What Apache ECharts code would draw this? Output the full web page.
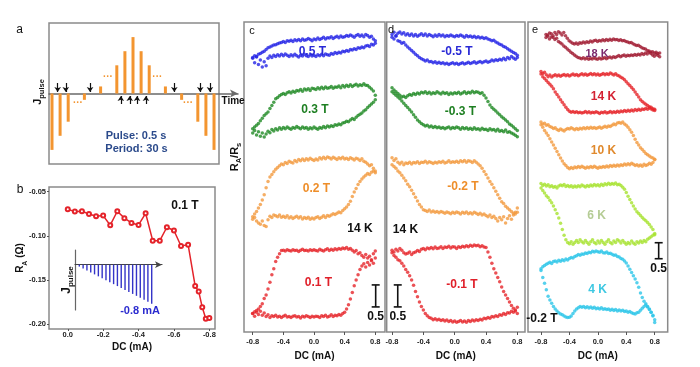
<!DOCTYPE html>
<html><head><meta charset="utf-8">
<script src="https://cdn.jsdelivr.net/npm/echarts@6/dist/echarts.min.js"></script>
<style>html,body{margin:0;padding:0;background:#fff}#chart{width:700px;height:367px}</style>
</head><body><div id="chart"></div>
<script>
const FONT = '"Liberation Sans", Arial, Helvetica, sans-serif';

// ---------- panel a : pulse train ----------
const aPulseSlot = [0,1,2,4,6,8,9,10,11,12,14,16,18,19,20];
const aPulseJ    = [-4,-3,-2,-0.45,0.5,2,3,4,3,2,0.5,-0.45,-2,-3,-4];
const aDotSlot = [3.2,6.9,13.0,16.8];
const aDotJ    = [-0.67,1.17,1.17,-0.67];
const aDownArrowSlot = [0.7,1.7,4.7,15.1,18.3,19.5];
const aDownArrowJ = [0.74,0.1];
const aUpArrowSlot = [8.5,9.6,10.5,11.6];
const aUpArrowJ = [-0.74,-0.18];

// ---------- panel b ----------
const bDC = [0,-0.04,-0.08,-0.12,-0.16,-0.2,-0.24,-0.28,-0.32,-0.36,-0.4,-0.44,-0.48,-0.52,-0.56,-0.6,-0.64,-0.68,-0.72,-0.74,-0.76,-0.78,-0.8];
const bRA = [-0.070,-0.0726,-0.0722,-0.0753,-0.0779,-0.0771,-0.088,-0.0722,-0.080,-0.0854,-0.0877,-0.0745,-0.1055,-0.1055,-0.0903,-0.094,-0.1115,-0.110,-0.157,-0.163,-0.181,-0.194,-0.193];
const bTicksX = [0,-0.2,-0.4,-0.6,-0.8];
const bTicksY = [-0.2,-0.15,-0.1,-0.05];
const bInsetIndex = [1,2,3,4,5,6,7,8,9,10,11,12,13,14,15,16,17,18,19,20];
const bInsetJ = [-0.04,-0.08,-0.12,-0.16,-0.2,-0.24,-0.28,-0.32,-0.36,-0.4,-0.44,-0.48,-0.52,-0.56,-0.6,-0.64,-0.68,-0.72,-0.76,-0.8];

// ---------- panels c,d,e : DC sweeps (R_A/R_s, stacked) ----------
const loopTicks = [-0.8,-0.4,0,0.4,0.8];
const dcSweep = [-0.8,-0.775,-0.75,-0.725,-0.7,-0.675,-0.65,-0.625,-0.6,-0.575,-0.55,-0.525,-0.5,-0.475,-0.45,-0.425,-0.4,-0.375,-0.35,-0.325,-0.3,-0.275,-0.25,-0.225,-0.2,-0.175,-0.15,-0.125,-0.1,-0.075,-0.05,-0.025,0,0.025,0.05,0.075,0.1,0.125,0.15,0.175,0.2,0.225,0.25,0.275,0.3,0.325,0.35,0.375,0.4,0.425,0.45,0.475,0.5,0.525,0.55,0.575,0.6,0.625,0.65,0.675,0.7,0.725,0.75,0.775,0.8];

// c : +0.1 T
const cUp01 = [0.42,0.36,0.45,0.40,0.47,0.38,0.43,0.35,0.39,0.33,0.37,0.35,0.38,0.34,0.36,0.33,0.36,0.38,0.34,0.35,0.33,0.36,0.37,0.34,0.35,0.32,0.36,0.34,0.37,0.35,0.33,0.36,0.34,0.36,0.35,0.33,0.37,0.35,0.38,0.34,0.36,0.39,0.35,0.38,0.37,0.40,0.38,0.42,0.45,0.52,0.62,0.75,0.90,1.05,1.18,1.30,1.42,1.50,1.55,1.48,1.58,1.52,1.62,1.56,1.68];
const cDn01 = [0.42,0.46,0.49,0.52,0.58,0.64,0.76,0.84,0.98,1.13,1.30,1.44,1.60,1.70,1.78,1.85,1.86,1.84,1.87,1.85,1.84,1.87,1.85,1.86,1.83,1.86,1.88,1.85,1.86,1.84,1.87,1.85,1.87,1.85,1.84,1.88,1.86,1.84,1.87,1.89,1.85,1.88,1.86,1.89,1.87,1.90,1.88,1.91,1.89,1.92,1.88,1.90,1.86,1.82,1.85,1.78,1.80,1.74,1.70,1.76,1.68,1.72,1.64,1.78,1.84];
// c : +0.2 T
const cUp02 = [2.56,2.60,2.52,2.48,2.45,2.52,2.42,2.40,2.55,2.63,2.60,2.66,2.64,2.62,2.66,2.61,2.63,2.60,2.64,2.59,2.62,2.58,2.61,2.63,2.59,2.62,2.57,2.60,2.58,2.61,2.56,2.59,2.57,2.60,2.62,2.58,2.61,2.64,2.60,2.65,2.63,2.66,2.69,2.67,2.70,2.73,2.71,2.76,2.80,2.84,2.90,2.97,3.08,3.18,3.26,3.35,3.42,3.48,3.52,3.56,3.60,3.58,3.63,3.66,3.62];
const cDn02 = [2.62,2.68,2.74,2.82,2.90,3.00,3.12,3.28,3.42,3.52,3.58,3.64,3.70,3.74,3.78,3.82,3.80,3.85,3.83,3.88,3.86,3.84,3.90,3.87,3.92,3.89,3.93,3.90,3.94,3.91,3.95,3.92,3.90,3.93,3.91,3.96,3.93,3.97,3.94,3.98,3.96,3.93,3.97,3.95,3.92,3.96,3.94,3.97,3.93,3.95,3.92,3.96,3.94,3.91,3.95,3.93,3.90,3.94,3.88,3.86,3.82,3.78,3.80,3.72,3.66];
// c : +0.3 T
const cUp03 = [4.52,4.58,4.48,4.55,4.45,4.52,4.43,4.50,4.56,4.53,4.60,4.57,4.62,4.59,4.64,4.61,4.65,4.62,4.66,4.63,4.61,4.65,4.63,4.67,4.64,4.62,4.66,4.63,4.65,4.61,4.64,4.62,4.66,4.63,4.61,4.65,4.63,4.67,4.64,4.68,4.66,4.69,4.67,4.71,4.70,4.73,4.71,4.75,4.76,4.79,4.78,4.82,4.85,4.83,4.88,4.92,4.95,4.98,5.02,5.05,5.10,5.14,5.18,5.22,5.28];
const cDn03 = [4.62,4.66,4.70,4.74,4.80,4.86,4.92,4.96,5.00,5.08,5.15,5.22,5.30,5.33,5.37,5.40,5.42,5.40,5.44,5.46,5.43,5.47,5.45,5.49,5.48,5.51,5.47,5.52,5.50,5.53,5.49,5.54,5.53,5.51,5.55,5.52,5.56,5.53,5.57,5.54,5.55,5.58,5.54,5.57,5.56,5.59,5.55,5.60,5.57,5.61,5.58,5.62,5.58,5.61,5.63,5.59,5.62,5.60,5.64,5.61,5.60,5.56,5.52,5.48,5.38];
// c : +0.5 T
const cUp05 = [6.22,6.12,6.25,6.08,6.18,6.02,6.14,6.05,6.22,6.27,6.24,6.29,6.26,6.30,6.27,6.31,6.28,6.32,6.29,6.26,6.30,6.27,6.31,6.28,6.25,6.29,6.27,6.31,6.28,6.26,6.30,6.27,6.29,6.26,6.30,6.28,6.31,6.28,6.32,6.30,6.29,6.33,6.31,6.35,6.33,6.36,6.34,6.38,6.37,6.40,6.38,6.42,6.41,6.44,6.42,6.46,6.45,6.48,6.46,6.50,6.51,6.49,6.54,6.52,6.56];
const cDn05 = [6.24,6.28,6.26,6.31,6.33,6.36,6.38,6.42,6.46,6.48,6.50,6.52,6.53,6.55,6.57,6.58,6.60,6.58,6.62,6.61,6.63,6.60,6.64,6.62,6.65,6.62,6.66,6.63,6.64,6.67,6.65,6.62,6.66,6.64,6.68,6.65,6.67,6.70,6.66,6.69,6.68,6.71,6.67,6.70,6.72,6.69,6.73,6.70,6.71,6.74,6.72,6.75,6.73,6.70,6.74,6.76,6.72,6.75,6.71,6.76,6.74,6.70,6.72,6.66,6.62];

// d : -0.1 T
const dUp01 = [1.86,1.82,1.88,1.84,1.90,1.86,1.80,1.77,1.79,1.82,1.76,1.80,1.82,1.85,1.83,1.88,1.90,1.87,1.91,1.89,1.92,1.89,1.93,1.90,1.91,1.94,1.90,1.93,1.92,1.95,1.91,1.94,1.93,1.90,1.94,1.92,1.95,1.93,1.96,1.94,1.97,1.95,1.98,1.96,1.97,1.94,1.96,1.93,1.92,1.82,1.70,1.56,1.44,1.34,1.24,1.14,1.02,0.92,0.84,0.76,0.68,0.60,0.54,0.48,0.42];
const dDn01 = [1.80,1.74,1.70,1.64,1.62,1.56,1.50,1.42,1.36,1.28,1.18,1.06,0.92,0.80,0.68,0.58,0.50,0.42,0.37,0.33,0.31,0.28,0.30,0.27,0.29,0.26,0.28,0.25,0.27,0.24,0.26,0.23,0.25,0.22,0.24,0.26,0.23,0.25,0.22,0.26,0.24,0.27,0.25,0.28,0.26,0.29,0.27,0.31,0.30,0.33,0.31,0.35,0.34,0.37,0.35,0.39,0.38,0.42,0.40,0.44,0.43,0.47,0.45,0.50,0.56];
// d : -0.2 T
const dUp02 = [3.96,3.90,3.94,3.86,3.82,3.86,3.80,3.84,3.83,3.86,3.82,3.85,3.84,3.87,3.83,3.86,3.85,3.88,3.84,3.87,3.85,3.83,3.86,3.84,3.87,3.85,3.88,3.84,3.86,3.89,3.85,3.87,3.86,3.88,3.85,3.89,3.87,3.90,3.86,3.89,3.88,3.85,3.89,3.86,3.82,3.78,3.72,3.65,3.58,3.50,3.42,3.36,3.28,3.20,3.12,3.04,2.96,2.92,2.86,2.82,2.78,2.74,2.70,2.68,2.72];
const dDn02 = [3.80,3.76,3.72,3.66,3.62,3.56,3.50,3.44,3.36,3.30,3.22,3.14,3.06,2.98,2.90,2.84,2.78,2.76,2.74,2.77,2.73,2.75,2.72,2.74,2.71,2.74,2.72,2.70,2.73,2.71,2.69,2.72,2.70,2.73,2.71,2.68,2.72,2.70,2.73,2.69,2.71,2.68,2.72,2.70,2.67,2.70,2.66,2.68,2.65,2.62,2.66,2.60,2.63,2.58,2.52,2.60,2.55,2.62,2.48,2.58,2.64,2.56,2.66,2.72,2.82];
// d : -0.3 T
const dUp03 = [5.55,5.50,5.46,5.42,5.38,5.34,5.36,5.33,5.37,5.40,5.38,5.42,5.40,5.43,5.41,5.45,5.43,5.46,5.42,5.45,5.41,5.44,5.42,5.46,5.43,5.41,5.45,5.42,5.44,5.40,5.43,5.41,5.44,5.42,5.45,5.41,5.43,5.46,5.42,5.45,5.43,5.47,5.44,5.46,5.45,5.42,5.44,5.38,5.32,5.24,5.16,5.10,5.06,5.02,4.98,4.94,4.89,4.86,4.82,4.78,4.73,4.70,4.66,4.62,4.58];
const dDn03 = [5.46,5.42,5.38,5.34,5.30,5.25,5.20,5.15,5.10,5.05,5.00,4.94,4.88,4.82,4.78,4.74,4.71,4.68,4.70,4.66,4.68,4.65,4.67,4.64,4.66,4.63,4.65,4.62,4.64,4.66,4.62,4.65,4.63,4.66,4.64,4.61,4.65,4.62,4.64,4.61,4.63,4.60,4.64,4.61,4.62,4.59,4.63,4.60,4.61,4.58,4.62,4.59,4.60,4.57,4.61,4.56,4.58,4.55,4.59,4.54,4.55,4.52,4.50,4.47,4.44];
// d : -0.5 T
const dUp05 = [6.76,6.81,6.74,6.79,6.82,6.77,6.80,6.75,6.78,6.74,6.77,6.73,6.76,6.72,6.75,6.78,6.74,6.77,6.73,6.76,6.74,6.71,6.75,6.72,6.76,6.73,6.75,6.71,6.74,6.72,6.75,6.73,6.71,6.74,6.72,6.75,6.73,6.70,6.74,6.71,6.73,6.70,6.72,6.69,6.71,6.68,6.70,6.67,6.69,6.66,6.64,6.62,6.63,6.59,6.57,6.54,6.52,6.49,6.47,6.44,6.41,6.38,6.35,6.33,6.29];
const dDn05 = [6.70,6.66,6.72,6.62,6.60,6.56,6.58,6.52,6.48,6.44,6.40,6.36,6.31,6.28,6.24,6.21,6.19,6.16,6.18,6.14,6.15,6.12,6.14,6.11,6.13,6.10,6.12,6.09,6.11,6.08,6.10,6.12,6.09,6.11,6.08,6.10,6.12,6.09,6.11,6.13,6.10,6.12,6.14,6.11,6.13,6.15,6.12,6.14,6.16,6.13,6.15,6.18,6.16,6.19,6.17,6.20,6.18,6.22,6.19,6.24,6.21,6.26,6.23,6.20,6.24];

// e : -0.2 T, 4 K
const eUp4 = [1.98,2.04,2.08,2.12,2.15,2.18,2.14,2.20,2.22,2.19,2.24,2.21,2.26,2.23,2.28,2.25,2.30,2.33,2.31,2.36,2.38,2.42,2.40,2.44,2.43,2.47,2.45,2.49,2.48,2.52,2.50,2.53,2.51,2.49,2.53,2.48,2.47,2.50,2.45,2.46,2.43,2.40,2.41,2.36,2.34,2.30,2.27,2.22,2.16,2.06,1.96,1.86,1.76,1.66,1.54,1.40,1.22,1.08,0.96,0.88,0.80,0.72,0.62,0.52,0.38];
const eDn4 = [1.92,1.70,1.52,1.32,1.12,1.00,0.90,0.80,0.72,0.66,0.60,0.56,0.54,0.50,0.47,0.45,0.46,0.50,0.58,0.66,0.72,0.76,0.80,0.77,0.80,0.76,0.79,0.75,0.78,0.74,0.77,0.73,0.75,0.72,0.76,0.71,0.73,0.70,0.72,0.68,0.71,0.67,0.70,0.66,0.69,0.66,0.68,0.64,0.66,0.62,0.64,0.60,0.58,0.56,0.60,0.62,0.68,0.74,0.80,0.84,0.78,0.70,0.62,0.50,0.30];
// e : 6 K
const eUp6 = [4.64,4.58,4.62,4.56,4.60,4.54,4.57,4.52,4.55,4.50,4.56,4.59,4.57,4.61,4.55,4.58,4.54,4.57,4.52,4.56,4.53,4.57,4.54,4.59,4.56,4.53,4.58,4.55,4.59,4.56,4.61,4.57,4.60,4.56,4.62,4.58,4.63,4.60,4.65,4.61,4.64,4.62,4.66,4.60,4.62,4.58,4.52,4.46,4.36,4.24,4.14,4.04,3.94,3.84,3.76,3.70,3.64,3.58,3.52,3.48,3.42,3.36,3.28,3.20,3.08];
const eDn6 = [4.50,4.42,4.34,4.26,4.20,4.12,4.04,3.94,3.82,3.70,3.56,3.40,3.20,3.02,2.88,2.80,2.76,2.82,2.74,2.80,2.86,2.80,2.88,2.82,2.78,2.86,2.80,2.74,2.82,2.88,2.80,2.76,2.84,2.78,2.86,2.80,2.74,2.82,2.88,2.80,2.76,2.84,2.80,2.88,2.84,2.78,2.86,2.80,2.74,2.80,2.76,2.84,2.78,2.74,2.82,2.78,2.84,2.80,2.86,2.82,2.90,2.94,2.98,3.02,3.04];
// e : 10 K
const eUp10 = [6.56,6.50,6.52,6.46,6.48,6.42,6.40,6.36,6.38,6.33,6.30,6.34,6.31,6.28,6.33,6.36,6.34,6.38,6.35,6.32,6.36,6.33,6.37,6.34,6.38,6.35,6.39,6.36,6.40,6.37,6.39,6.36,6.38,6.41,6.37,6.40,6.43,6.40,6.44,6.42,6.46,6.50,6.48,6.53,6.55,6.52,6.56,6.50,6.46,6.40,6.32,6.24,6.14,6.02,5.92,5.84,5.76,5.70,5.64,5.58,5.54,5.50,5.46,5.44,5.40];
const eDn10 = [6.48,6.40,6.30,6.22,6.14,6.04,5.94,5.84,5.74,5.64,5.54,5.44,5.34,5.26,5.20,5.14,5.10,5.14,5.11,5.16,5.13,5.17,5.14,5.18,5.15,5.12,5.16,5.13,5.17,5.14,5.18,5.15,5.12,5.16,5.14,5.17,5.15,5.19,5.16,5.20,5.17,5.21,5.18,5.22,5.19,5.23,5.20,5.25,5.22,5.26,5.23,5.27,5.24,5.20,5.23,5.19,5.22,5.18,5.24,5.20,5.23,5.27,5.24,5.30,5.38];
// e : 14 K
const eUp14 = [8.14,8.08,8.12,8.04,7.98,8.03,7.97,8.01,8.04,8.00,8.03,7.99,8.02,8.05,8.01,8.04,8.00,8.03,8.06,8.02,8.05,8.01,8.04,8.07,8.03,8.06,8.02,8.05,8.08,8.04,8.07,8.03,8.06,8.02,8.05,8.08,8.04,8.07,8.05,8.09,8.06,8.03,8.07,8.02,8.00,7.96,7.93,7.88,7.82,7.76,7.70,7.64,7.58,7.50,7.42,7.34,7.26,7.20,7.16,7.12,7.08,7.04,7.02,6.98,6.96];
const eDn14 = [8.06,7.98,7.92,7.86,7.80,7.74,7.68,7.60,7.50,7.42,7.34,7.26,7.18,7.10,7.02,6.95,6.90,6.87,6.89,6.86,6.88,6.85,6.87,6.84,6.86,6.89,6.85,6.88,6.84,6.87,6.85,6.88,6.86,6.83,6.87,6.85,6.88,6.84,6.86,6.89,6.85,6.88,6.86,6.90,6.87,6.91,6.88,6.92,6.89,6.93,6.90,6.94,6.91,6.95,6.92,6.96,6.93,6.97,6.95,6.99,6.96,7.00,6.97,6.94,6.92];
// e : 18 K (curve sits 0.07 mA to the right in the picture)
const e18Shift = 0.07;
const eUp18 = [9.20,9.28,9.16,9.32,9.26,9.36,9.30,9.38,9.34,9.28,9.36,9.26,9.18,9.10,9.06,9.02,9.00,9.03,8.99,9.04,9.02,9.06,9.03,9.07,9.05,9.09,9.06,9.10,9.12,9.08,9.11,9.09,9.13,9.10,9.14,9.11,9.15,9.12,9.16,9.13,9.14,9.11,9.13,9.10,9.11,9.08,9.06,9.04,9.05,9.01,8.98,8.95,8.96,8.92,8.88,8.86,8.84,8.80,8.78,8.75,8.76,8.72,8.74,8.70,8.72];
const eDn18 = [9.30,9.24,9.34,9.22,9.20,9.14,9.18,9.08,9.04,9.00,8.94,8.90,8.84,8.80,8.74,8.70,8.66,8.62,8.58,8.56,8.54,8.57,8.53,8.56,8.52,8.55,8.53,8.57,8.54,8.52,8.56,8.53,8.55,8.58,8.54,8.57,8.59,8.56,8.60,8.58,8.61,8.64,8.60,8.63,8.66,8.62,8.65,8.63,8.66,8.64,8.67,8.65,8.68,8.66,8.70,8.67,8.72,8.69,8.74,8.70,8.66,8.62,8.68,8.64,8.60];

// scale bars [x, y0, y1] (0.5 in R_A/R_s)
const scaleBarC = [0.805, 0.57, 1.07];
const scaleBarD = [-0.727, 0.57, 1.07];
const scaleBarE = [0.856, 2.29, 2.79];

// ---------- colours ----------
const cBlue='#2424E6', cGreen='#1F8A24', cOrange='#F29A3F', cRed='#E6252B', cDark='#A11D33', cLime='#A6E22E', cCyan='#2CC6E8';
const BORDER = '#8a8a8a';

function loopData(up, dn, shift) {
  const s = shift || 0, out = [];
  for (let i = 0; i < dcSweep.length; i++) {
    out.push([+(dcSweep[i] + s).toFixed(3), up[i]]);
    out.push([+(dcSweep[i] + s).toFixed(3), dn[i]]);
  }
  return out;
}
function loopSeries(gi, up, dn, color, shift) {
  return { type:'scatter', xAxisIndex:gi, yAxisIndex:gi, symbol:'circle', symbolSize:3.5,
    itemStyle:{color:color}, silent:true, data: loopData(up, dn, shift), z:3 };
}
function renderScaleBar(params, api) {
  const top = api.coord([api.value(0), api.value(2)]);
  const bot = api.coord([api.value(0), api.value(1)]);
  const st = {stroke:'#111', lineWidth:1.6};
  return {type:'group', children:[
    {type:'line', shape:{x1:top[0],y1:top[1],x2:bot[0],y2:bot[1]}, style:st},
    {type:'line', shape:{x1:top[0]-4,y1:top[1],x2:top[0]+4,y2:top[1]}, style:st},
    {type:'line', shape:{x1:bot[0]-4,y1:bot[1],x2:bot[0]+4,y2:bot[1]}, style:st},
    {type:'text', style:{text:'0.5', x:bot[0], y:bot[1]+10, fill:'#111', font:'bold 12px '+FONT, align:'center', verticalAlign:'middle'}}
  ]};
}
function scaleSeries(gi, bar) {
  return {type:'custom', xAxisIndex:gi, yAxisIndex:gi, renderItem:renderScaleBar, data:[bar], silent:true, z:5};
}
function loopXAxis(gi, min, max) {
  return {gridIndex:gi, type:'value', min:min, max:max,
    axisLine:{show:false, onZero:false},
    axisTick:{show:true, customValues:loopTicks, length:3, lineStyle:{color:'#555'}},
    axisLabel:{customValues:loopTicks, formatter:v=>v.toFixed(1), fontSize:7.5, fontWeight:'bold', color:'#222', margin:6, fontFamily:FONT},
    splitLine:{show:false},
    name:'DC (mA)', nameLocation:'middle', nameGap:14,
    nameTextStyle:{fontSize:10, fontWeight:'bold', color:'#111', fontFamily:FONT}};
}
function T(x, y, text, size, color, weight, align) {
  return {type:'text', x:x, y:y, z:20, silent:true,
    style:{text:text, fill:color, fontSize:size, fontWeight:weight||'bold', fontFamily:FONT,
      align:align||'center', verticalAlign:'middle'}};
}
function R(x, y, text, size, sub) {
  const base = {fontWeight:'bold', fontFamily:FONT, fill:'#111'};
  return {type:'text', x:x, y:y, rotation:Math.PI/2, z:20, silent:true,
    style:{text:text, align:'center', verticalAlign:'middle',
      rich:{ m:Object.assign({fontSize:size, lineHeight:size+5, verticalAlign:'middle'}, base),
             s:Object.assign({fontSize:sub, lineHeight:sub, verticalAlign:'bottom'}, base)}}};
}

const chart = echarts.init(document.getElementById('chart'), null, {renderer:'canvas'});
const option = {
  animation:false,
  backgroundColor:'#fff',
  textStyle:{fontFamily:FONT},
  grid:[
    {left:49, top:23, width:170, height:141, show:true, borderColor:BORDER, borderWidth:1.5},
    {left:49, top:23, width:189, height:141},
    {left:49, top:187, width:166, height:142, show:true, borderColor:BORDER, borderWidth:1.5},
    {left:75, top:250, width:87, height:60},
    {left:244, top:22, width:141, height:310, show:true, borderColor:BORDER, borderWidth:1.5},
    {left:386.7, top:22, width:138.3, height:310, show:true, borderColor:BORDER, borderWidth:1.5},
    {left:528, top:22, width:139.7, height:310, show:true, borderColor:BORDER, borderWidth:1.5}
  ],
  xAxis:[
    {gridIndex:0, type:'value', show:false, min:0, max:1},
    {gridIndex:1, type:'value', min:-0.37, max:22.96,
      axisLine:{show:true, onZero:true, symbol:['none','arrow'], symbolSize:[6,8], lineStyle:{color:'#6a6a6a', width:1.5}},
      axisTick:{show:false}, axisLabel:{show:false}, splitLine:{show:false}},
    {gridIndex:2, type:'value', inverse:true, min:-0.832, max:0.106,
      axisLine:{show:false, onZero:false},
      axisTick:{show:true, customValues:bTicksX, length:2, lineStyle:{color:'#555'}},
      axisLabel:{customValues:bTicksX, formatter:v=>v.toFixed(1), fontSize:7.5, fontWeight:'bold', color:'#222', margin:2, fontFamily:FONT},
      splitLine:{show:false},
      name:'DC (mA)', nameLocation:'middle', nameGap:13,
      nameTextStyle:{fontSize:10, fontWeight:'bold', color:'#111', fontFamily:FONT}},
    {gridIndex:3, type:'value', min:-0.13, max:22.7,
      axisLine:{show:true, onZero:true, symbol:['none','arrow'], symbolSize:[5,7], lineStyle:{color:'#444', width:1.2}},
      axisTick:{show:false}, axisLabel:{show:false}, splitLine:{show:false}},
    loopXAxis(4, -0.9136, 0.9266),
    loopXAxis(5, -0.868, 0.898),
    loopXAxis(6, -0.983, 0.983)
  ],
  yAxis:[
    {gridIndex:0, type:'value', show:false, min:0, max:1},
    {gridIndex:1, type:'value', show:false, min:-5, max:5},
    {gridIndex:2, type:'value', min:-0.2056, max:-0.0447,
      axisLine:{show:false, onZero:false},
      axisTick:{show:true, customValues:bTicksY, length:2, lineStyle:{color:'#555'}},
      axisLabel:{customValues:bTicksY, formatter:v=>v.toFixed(2), fontSize:7.5, fontWeight:'bold', color:'#222', margin:3, fontFamily:FONT},
      splitLine:{show:false}},
    {gridIndex:3, type:'value', min:-0.93, max:0.30,
      axisLine:{show:true, onZero:false, lineStyle:{color:'#666', width:1.2}},
      axisTick:{show:false}, axisLabel:{show:false}, splitLine:{show:false}},
    {gridIndex:4, type:'value', show:false, min:0, max:7.0455},
    {gridIndex:5, type:'value', show:false, min:0, max:7.0455},
    {gridIndex:6, type:'value', show:false, min:0, max:9.6875}
  ],
  series:[
    // panel a
    {type:'bar', xAxisIndex:1, yAxisIndex:1, barWidth:3, itemStyle:{color:'#F39530'}, silent:true,
      data: aPulseSlot.map((s,i)=>[s, aPulseJ[i]])},
    {type:'custom', xAxisIndex:1, yAxisIndex:1, silent:true,
      data: aDotSlot.map((s,i)=>[s, aDotJ[i]]),
      renderItem:(p, api)=>{ const c = api.coord([api.value(0), api.value(1)]);
        return {type:'text', style:{text:'···', x:c[0], y:c[1], fill:'#F39530', font:'bold 10px '+FONT, align:'center', verticalAlign:'middle'}}; }},
    {type:'lines', coordinateSystem:'cartesian2d', xAxisIndex:1, yAxisIndex:1, silent:true,
      symbol:['none','arrow'], symbolSize:5,
      lineStyle:{color:'#111', width:1.2, opacity:1, curveness:0},
      data: aDownArrowSlot.map(s=>({coords:[[s,aDownArrowJ[0]],[s,aDownArrowJ[1]]]}))
        .concat(aUpArrowSlot.map(s=>({coords:[[s,aUpArrowJ[0]],[s,aUpArrowJ[1]]]})))},
    // panel b
    {type:'line', xAxisIndex:2, yAxisIndex:2, symbol:'emptyCircle', symbolSize:4, silent:true,
      lineStyle:{color:'#E4232A', width:1.5}, itemStyle:{color:'#E4232A', borderWidth:1.2},
      data: bDC.map((x,i)=>[x, bRA[i]]), z:4},
    {type:'bar', xAxisIndex:3, yAxisIndex:3, barWidth:1.4, itemStyle:{color:'#3434C8'}, silent:true,
      data: bInsetIndex.map((k,i)=>[k, bInsetJ[i]])},
    // panel c
    loopSeries(4, cUp01, cDn01, cRed),
    loopSeries(4, cUp02, cDn02, cOrange),
    loopSeries(4, cUp03, cDn03, cGreen),
    loopSeries(4, cUp05, cDn05, cBlue),
    scaleSeries(4, scaleBarC),
    // panel d
    loopSeries(5, dUp01, dDn01, cRed),
    loopSeries(5, dUp02, dDn02, cOrange),
    loopSeries(5, dUp03, dDn03, cGreen),
    loopSeries(5, dUp05, dDn05, cBlue),
    scaleSeries(5, scaleBarD),
    // panel e
    loopSeries(6, eUp4, eDn4, cCyan),
    loopSeries(6, eUp6, eDn6, cLime),
    loopSeries(6, eUp10, eDn10, cOrange),
    loopSeries(6, eUp14, eDn14, cRed),
    loopSeries(6, eUp18, eDn18, cDark, e18Shift),
    scaleSeries(6, scaleBarE)
  ],
  graphic:[
    T(19.7, 29.5, 'a', 12, '#111', 'normal'),
    T(20, 190, 'b', 12, '#111', 'normal'),
    T(252, 31, 'c', 11, '#111', 'normal'),
    T(391, 30, 'd', 11, '#111', 'normal'),
    T(535, 30, 'e', 11, '#111', 'normal'),
    T(136, 136, 'Pulse: 0.5 s', 11, '#2B4A8B'),
    T(136.5, 148.5, 'Period: 30 s', 11, '#2B4A8B'),
    T(221.5, 101, 'Time', 10, '#111', 'bold', 'left'),
    R(38, 92, '{m|J}{s|pulse}', 11, 7.5),
    T(185, 206, '0.1 T', 12, '#111'),
    T(140, 311, '-0.8 mA', 11, '#2B2BCF'),
    R(66.7, 280, '{m|J}{s|pulse}', 12, 8),
    R(20.7, 258, '{m|R}{s|A}{m| (Ω)}', 10, 7),
    R(235, 157, '{m|R}{s|A}{m|/R}{s|s}', 11, 7.5),
    // c labels
    T(312.3, 52, '0.5 T', 12, '#2929D6'),
    T(315, 110, '0.3 T', 12, '#1E7F22'),
    T(316.5, 188.7, '0.2 T', 12, '#EE8E2A'),
    T(318.5, 283, '0.1 T', 12, '#E0202A'),
    T(360, 228.3, '14 K', 12, '#111'),
    // d labels
    T(457, 52, '-0.5 T', 12, '#2929D6'),
    T(460.5, 112, '-0.3 T', 12, '#1E7F22'),
    T(463, 186.7, '-0.2 T', 12, '#EE8E2A'),
    T(462, 285, '-0.1 T', 12, '#E0202A'),
    T(405.5, 229.2, '14 K', 12, '#111'),
    // e labels
    T(597, 54, '18 K', 11, '#7B2A6E'),
    T(603.5, 96.3, '14 K', 12, '#D42233'),
    T(603.5, 150.3, '10 K', 12, '#E08A2E'),
    T(596.5, 215.8, '6 K', 12, '#B5CC95'),
    T(597.5, 290, '4 K', 12, '#3DC8E2'),
    T(542, 318.3, '-0.2 T', 12, '#111')
  ]
};
chart.setOption(option);
</script>
</body></html>
